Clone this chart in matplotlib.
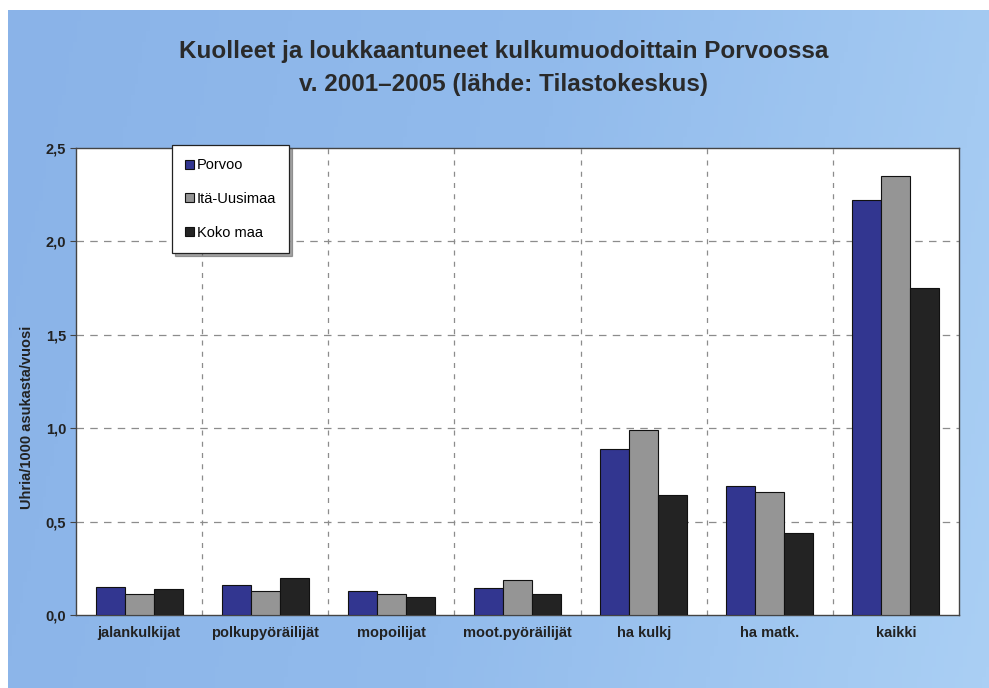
import numpy as np
import matplotlib.pyplot as plt
from matplotlib.colors import LinearSegmentedColormap

plt.rcParams['font.family'] = ['Liberation Sans', 'DejaVu Sans']

kulkumuodot = ["jalankulkijat", "polkupyöräilijät", "mopoilijat", "moot.pyöräilijät",
               "ha kulkj", "ha matk.", "kaikki"]
porvoo = [0.15, 0.16, 0.13, 0.145, 0.89, 0.69, 2.22]
ita_uusimaa = [0.11, 0.13, 0.11, 0.19, 0.99, 0.66, 2.35]
koko_maa = [0.14, 0.20, 0.095, 0.11, 0.64, 0.44, 1.75]
sarjat = ["Porvoo", "Itä-Uusimaa", "Koko maa"]
varit = ["#323690", "#959595", "#232323"]
y_ticks = [0.0, 0.5, 1.0, 1.5, 2.0, 2.5]

fig = plt.figure(figsize=(9.89, 6.88), dpi=100)

# sininen taustapaneeli liukuvärillä
tausta = fig.add_axes([0.008, 0, 0.992, 0.985], zorder=-5)
cmap = LinearSegmentedColormap.from_list("tausta", ["#8ab3e8", "#92bbec", "#aacff4"])
gx = np.linspace(0, 1, 256)
grad = np.tile(gx, (64, 1)) + 0.15 * np.linspace(0, 1, 64)[:, None]
tausta.imshow(grad, cmap=cmap, aspect="auto", extent=[0, 1, 0, 1], vmin=0, vmax=1.15)
tausta.axis("off")

ax = fig.add_axes([0.0768, 0.1061, 0.8929, 0.6788])
ax.set_facecolor("white")

x = np.arange(len(kulkumuodot))
w = 0.23
for i, (arvot, nimi, vari) in enumerate(zip([porvoo, ita_uusimaa, koko_maa], sarjat, varit)):
    ax.bar(x + (i - 1) * w, arvot, width=w, color=vari, edgecolor="#111111",
           linewidth=0.8, label=nimi, zorder=3)

ax.set_xlim(-0.5, len(kulkumuodot) - 0.5)
ax.set_ylim(0, 2.5)
ax.set_yticks(y_ticks)
ax.set_yticklabels([f"{v:.1f}".replace(".", ",") for v in y_ticks],
                   fontsize=10.5, fontweight="bold", color="#222222")
ax.set_xticks(x)
ax.set_xticklabels(kulkumuodot, fontsize=10.5, fontweight="bold", color="#222222")
ax.tick_params(axis="x", length=0, pad=8)
ax.tick_params(axis="y", length=4, color="#444444", pad=3)

# katkoviivat: vaakasuorat arvoille, pystysuorat ryhmien väleihin
for v in y_ticks[1:-1]:
    ax.axhline(v, color="#8c8c8c", linestyle=(0, (6, 5)), linewidth=0.9, zorder=1)
for b in np.arange(0.5, len(kulkumuodot) - 0.5, 1):
    ax.axvline(b, color="#8c8c8c", linestyle=(0, (4, 5)), linewidth=0.9, zorder=1)

for s in ax.spines.values():
    s.set_color("#444444")
    s.set_linewidth(1.0)

ax.set_ylabel("Uhria/1000 asukasta/vuosi", fontsize=10.5, fontweight="bold",
              color="#222222")
ax.yaxis.set_label_coords(-0.047, 0.424)

fig.text(0.509, 0.925, "Kuolleet ja loukkaantuneet kulkumuodoittain Porvoossa",
         ha="center", va="center", fontsize=17.5, fontweight="bold", color="#2a2a2a")
fig.text(0.509, 0.877, "v. 2001–2005 (lähde: Tilastokeskus)",
         ha="center", va="center", fontsize=17.5, fontweight="bold", color="#2a2a2a")

leg = ax.legend(loc="upper left", bbox_to_anchor=(0.174, 0.789), bbox_transform=fig.transFigure,
                frameon=True, fancybox=False, shadow=True, fontsize=10.5,
                handlelength=0.6, handleheight=0.6, handletextpad=0.2,
                labelspacing=1.35, borderpad=0.9, borderaxespad=0)
leg.get_frame().set_edgecolor("#222222")
leg.get_frame().set_linewidth(0.9)
leg.set_zorder(5)

fig.savefig("out.png", dpi=100)
